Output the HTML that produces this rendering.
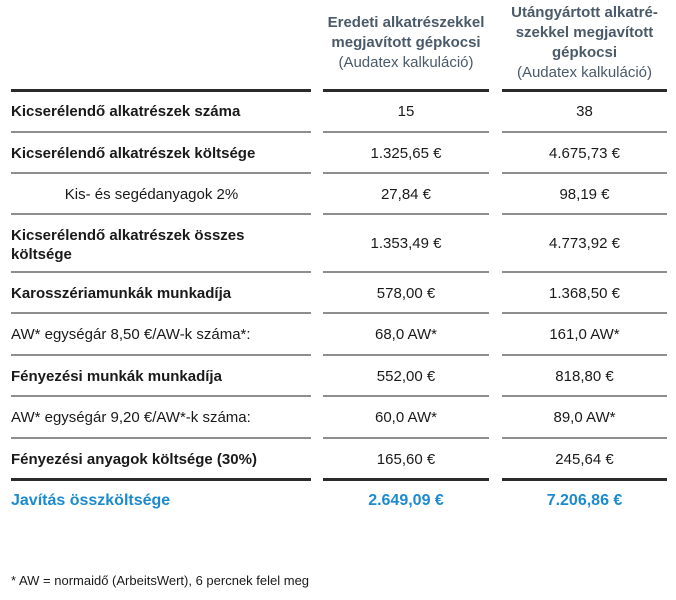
<!DOCTYPE html>
<html>
<head>
<meta charset="utf-8">
<style>
  html, body { margin:0; padding:0; background:#fff; }
  body { width:676px; height:600px; position:relative; overflow:hidden;
         font-family:"Liberation Sans", Arial, sans-serif; color:#1a1a1a; }
  .a { position:absolute; white-space:nowrap; }
  .hdr { color:#4b5a69; font-size:15px; line-height:20px; text-align:center; font-weight:bold; }
  .hdr .l { font-weight:normal; }
  .c1 { left:11px; width:300px; }
  .c2 { left:323px; width:166px; text-align:center; }
  .c3 { left:502px; width:165px; text-align:center; }
  .row { font-size:15px; }
  .b { font-weight:bold; }
  .thick { position:absolute; height:3px; background:#2b2b2b; }
  .thin { position:absolute; height:2px; background:#8e8e8e; }
  .blue { color:#1d8ad0; font-weight:bold; font-size:16px; }
</style>
</head>
<body>

<!-- headers -->
<div class="a hdr" style="left:323px;width:166px;top:13px;">Eredeti alkatrészekkel<br>megjavított gépkocsi<br><span class="l">(Audatex kalkuláció)</span></div>
<div class="a hdr" style="left:502px;width:165px;top:3px;">Utángyártott alkatré-<br>szekkel megjavított<br>gépkocsi<br><span class="l">(Audatex kalkuláció)</span></div>

<!-- top thick lines -->
<div class="thick" style="top:89px;left:11px;width:300px;"></div>
<div class="thick" style="top:89px;left:323px;width:166px;"></div>
<div class="thick" style="top:89px;left:502px;width:165px;"></div>

<!-- thin lines -->
<div class="thin" style="top:131px;left:11px;width:300px;"></div><div class="thin" style="top:131px;left:323px;width:166px;"></div><div class="thin" style="top:131px;left:502px;width:165px;"></div>
<div class="thin" style="top:172px;left:11px;width:300px;"></div><div class="thin" style="top:172px;left:323px;width:166px;"></div><div class="thin" style="top:172px;left:502px;width:165px;"></div>
<div class="thin" style="top:213px;left:11px;width:300px;"></div><div class="thin" style="top:213px;left:323px;width:166px;"></div><div class="thin" style="top:213px;left:502px;width:165px;"></div>
<div class="thin" style="top:271px;left:11px;width:300px;"></div><div class="thin" style="top:271px;left:323px;width:166px;"></div><div class="thin" style="top:271px;left:502px;width:165px;"></div>
<div class="thin" style="top:312px;left:11px;width:300px;"></div><div class="thin" style="top:312px;left:323px;width:166px;"></div><div class="thin" style="top:312px;left:502px;width:165px;"></div>
<div class="thin" style="top:354px;left:11px;width:300px;"></div><div class="thin" style="top:354px;left:323px;width:166px;"></div><div class="thin" style="top:354px;left:502px;width:165px;"></div>
<div class="thin" style="top:395px;left:11px;width:300px;"></div><div class="thin" style="top:395px;left:323px;width:166px;"></div><div class="thin" style="top:395px;left:502px;width:165px;"></div>
<div class="thin" style="top:437px;left:11px;width:300px;"></div><div class="thin" style="top:437px;left:323px;width:166px;"></div><div class="thin" style="top:437px;left:502px;width:165px;"></div>

<!-- bottom thick lines -->
<div class="thick" style="top:478px;left:11px;width:300px;"></div>
<div class="thick" style="top:478px;left:323px;width:166px;"></div>
<div class="thick" style="top:478px;left:502px;width:165px;"></div>

<!-- row 1 -->
<div class="a row b c1" style="top:102px;line-height:20px;">Kicserélendő alkatrészek száma</div>
<div class="a row c2" style="top:102px;line-height:20px;">15</div>
<div class="a row c3" style="top:102px;line-height:20px;">38</div>

<!-- row 2 -->
<div class="a row b c1" style="top:144px;line-height:20px;">Kicserélendő alkatrészek költsége</div>
<div class="a row c2" style="top:144px;line-height:20px;">1.325,65 €</div>
<div class="a row c3" style="top:144px;line-height:20px;">4.675,73 €</div>

<!-- row 3 -->
<div class="a row" style="left:11px;width:281px;text-align:center;top:185px;line-height:20px;">Kis- és segédanyagok 2%</div>
<div class="a row c2" style="top:185px;line-height:20px;">27,84 €</div>
<div class="a row c3" style="top:185px;line-height:20px;">98,19 €</div>

<!-- row 4 -->
<div class="a row b c1" style="top:226px;line-height:19px;">Kicserélendő alkatrészek összes<br>költsége</div>
<div class="a row c2" style="top:234px;line-height:20px;">1.353,49 €</div>
<div class="a row c3" style="top:234px;line-height:20px;">4.773,92 €</div>

<!-- row 5 -->
<div class="a row b c1" style="top:284px;line-height:20px;">Karosszériamunkák munkadíja</div>
<div class="a row c2" style="top:284px;line-height:20px;">578,00 €</div>
<div class="a row c3" style="top:284px;line-height:20px;">1.368,50 €</div>

<!-- row 6 -->
<div class="a row c1" style="top:325px;line-height:20px;">AW* egységár 8,50 €/AW-k száma*:</div>
<div class="a row c2" style="top:325px;line-height:20px;">68,0 AW*</div>
<div class="a row c3" style="top:325px;line-height:20px;">161,0 AW*</div>

<!-- row 7 -->
<div class="a row b c1" style="top:367px;line-height:20px;">Fényezési munkák munkadíja</div>
<div class="a row c2" style="top:367px;line-height:20px;">552,00 €</div>
<div class="a row c3" style="top:367px;line-height:20px;">818,80 €</div>

<!-- row 8 -->
<div class="a row c1" style="top:408px;line-height:20px;">AW* egységár 9,20 €/AW*-k száma:</div>
<div class="a row c2" style="top:408px;line-height:20px;">60,0 AW*</div>
<div class="a row c3" style="top:408px;line-height:20px;">89,0 AW*</div>

<!-- row 9 -->
<div class="a row b c1" style="top:450px;line-height:20px;">Fényezési anyagok költsége (30%)</div>
<div class="a row c2" style="top:450px;line-height:20px;">165,60 €</div>
<div class="a row c3" style="top:450px;line-height:20px;">245,64 €</div>

<!-- total -->
<div class="a blue c1" style="top:491px;line-height:20px;">Javítás összköltsége</div>
<div class="a blue c2" style="top:491px;line-height:20px;">2.649,09 €</div>
<div class="a blue c3" style="top:491px;line-height:20px;">7.206,86 €</div>

<!-- footnote -->
<div class="a" style="left:11px;top:572px;font-size:13px;line-height:18px;">* AW = normaidő (ArbeitsWert), 6 percnek felel meg</div>

</body>
</html>
